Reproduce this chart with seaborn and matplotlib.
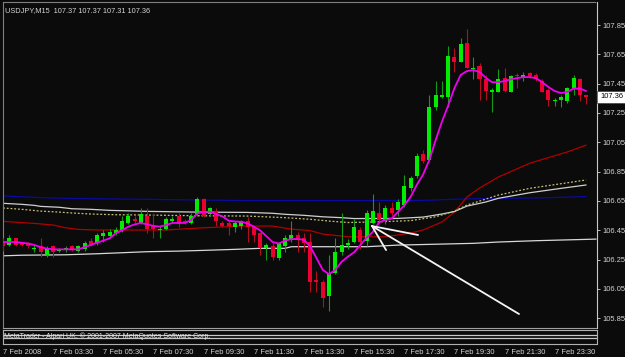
import numpy as np
import pandas as pd
import matplotlib
matplotlib.use("Agg")
import matplotlib.pyplot as plt
import matplotlib.transforms as mtransforms
import seaborn as sns

# ---------------- data ----------------
title_text = "USDJPY,M15  107.37 107.37 107.31 107.36"
footer_text = "MetaTrader - Alpari UK, \u00a9 2001-2007 MetaQuotes Software Corp."

opens = [106.38, 106.35, 106.40, 106.36, 106.36, 106.32, 106.34, 106.28, 106.34, 106.31,
         106.32, 106.34, 106.31, 106.32, 106.38, 106.36, 106.41, 106.41, 106.43, 106.45,
         106.50, 106.53, 106.50, 106.55, 106.48, 106.45, 106.46, 106.51, 106.55, 106.51,
         106.50, 106.56, 106.66, 106.56, 106.58, 106.50, 106.50, 106.47, 106.48, 106.51,
         106.47, 106.43, 106.33, 106.34, 106.26, 106.34, 106.39, 106.42, 106.40, 106.37,
         106.11, 106.10, 106.00, 106.16, 106.30, 106.35, 106.37, 106.45, 106.38, 106.50,
         106.57, 106.51, 106.60, 106.59, 106.62, 106.74, 106.82, 106.97, 106.93, 107.29,
         107.36, 107.36, 107.63, 107.60, 107.73, 107.55, 107.57, 107.48, 107.39, 107.39,
         107.49, 107.39, 107.51, 107.49, 107.52, 107.51, 107.47, 107.41, 107.33, 107.34,
         107.33, 107.42, 107.48, 107.37]
highs = [106.40, 106.42, 106.40, 106.37, 106.37, 106.35, 106.40, 106.34, 106.35, 106.33,
         106.34, 106.35, 106.35, 106.38, 106.40, 106.43, 106.45, 106.46, 106.47, 106.55,
         106.57, 106.55, 106.60, 106.60, 106.57, 106.48, 106.54, 106.55, 106.57, 106.53,
         106.57, 106.68, 106.67, 106.61, 106.60, 106.51, 106.51, 106.51, 106.52, 106.54,
         106.48, 106.44, 106.36, 106.36, 106.37, 106.42, 106.51, 106.44, 106.43, 106.43,
         106.17, 106.11, 106.28, 106.40, 106.57, 106.39, 106.53, 106.47, 106.59, 106.70,
         106.64, 106.62, 106.64, 106.66, 106.83, 106.82, 106.98, 107.00, 107.37, 107.47,
         107.47, 107.71, 107.69, 107.76, 107.82, 107.63, 107.59, 107.51, 107.42, 107.55,
         107.56, 107.51, 107.52, 107.53, 107.53, 107.52, 107.48, 107.42, 107.35, 107.37,
         107.43, 107.51, 107.49, 107.37]
lows = [106.31, 106.34, 106.34, 106.34, 106.33, 106.30, 106.27, 106.27, 106.27, 106.30,
        106.30, 106.31, 106.30, 106.31, 106.34, 106.35, 106.37, 106.40, 106.42, 106.44,
        106.49, 106.50, 106.49, 106.43, 106.40, 106.40, 106.45, 106.50, 106.47, 106.49,
        106.49, 106.55, 106.54, 106.55, 106.48, 106.47, 106.42, 106.44, 106.46, 106.37,
        106.37, 106.28, 106.25, 106.25, 106.25, 106.30, 106.37, 106.30, 106.30, 106.03,
        106.03, 105.93, 105.90, 106.15, 106.28, 106.32, 106.36, 106.32, 106.34, 106.49,
        106.50, 106.49, 106.55, 106.55, 106.61, 106.72, 106.81, 106.91, 106.92, 107.27,
        107.35, 107.29, 107.53, 107.60, 107.56, 107.48, 107.34, 107.34, 107.26, 107.39,
        107.39, 107.39, 107.42, 107.47, 107.49, 107.47, 107.39, 107.30, 107.30, 107.29,
        107.32, 107.37, 107.33, 107.31]
closes = [106.34, 106.40, 106.35, 106.35, 106.34, 106.33, 106.30, 106.33, 106.30, 106.32,
          106.33, 106.32, 106.34, 106.36, 106.35, 106.42, 106.43, 106.44, 106.45, 106.51,
          106.55, 106.51, 106.56, 106.46, 106.46, 106.46, 106.53, 106.53, 106.49, 106.50,
          106.55, 106.66, 106.55, 106.60, 106.51, 106.48, 106.48, 106.50, 106.51, 106.47,
          106.42, 106.33, 106.35, 106.27, 106.36, 106.40, 106.42, 106.39, 106.36, 106.10,
          106.10, 105.99, 106.15, 106.30, 106.35, 106.36, 106.47, 106.37, 106.57, 106.58,
          106.52, 106.60, 106.57, 106.64, 106.75, 106.81, 106.96, 106.92, 107.29, 107.37,
          107.37, 107.64, 107.60, 107.72, 107.56, 107.56, 107.48, 107.40, 107.41, 107.48,
          107.40, 107.50, 107.50, 107.51, 107.50, 107.48, 107.39, 107.34, 107.34, 107.36,
          107.42, 107.49, 107.37, 107.36]

# short moving average (magenta), one value per bar
ma_fast = [106.37, 106.37, 106.37, 106.365, 106.36, 106.35, 106.335, 106.325, 106.32, 106.32,
           106.32, 106.32, 106.32, 106.335, 106.35, 106.365, 106.38, 106.395, 106.43, 106.45,
           106.475, 106.49, 106.50, 106.49, 106.48, 106.475, 106.486, 106.50, 106.50, 106.50,
           106.52, 106.565, 106.575, 106.577, 106.56, 106.545, 106.515, 106.51, 106.508, 106.497,
           106.475, 106.45, 106.41, 106.37, 106.36, 106.38, 106.39, 106.39, 106.385, 106.34,
           106.26, 106.18, 106.15, 106.18, 106.235, 106.27, 106.30, 106.35, 106.40, 106.44,
           106.505, 106.52, 106.53, 106.575, 106.62, 106.677, 106.76, 106.83, 106.93, 107.065,
           107.19, 107.30, 107.42, 107.51, 107.536, 107.543, 107.53, 107.49, 107.46, 107.46,
           107.468, 107.48, 107.488, 107.495, 107.495, 107.488, 107.46, 107.427, 107.40, 107.386,
           107.393, 107.417, 107.417, 107.40]

# long moving averages (read at selected bars)
blue_bars = [0, 6, 11, 23, 38, 57, 67, 73, 79, 86, 93]
blue_vals = [106.684, 106.673, 106.667, 106.661, 106.653, 106.653, 106.654, 106.663, 106.668, 106.671, 106.680]

red_bars = [0, 5, 8, 10, 12, 15, 26, 31, 38, 43, 46, 49, 51, 55, 61, 65, 67, 70, 72, 74, 76, 79, 84, 90, 93]
red_vals = [106.511, 106.497, 106.486, 106.467, 106.456, 106.452, 106.452, 106.465, 106.479, 106.479,
            106.458, 106.448, 106.424, 106.406, 106.406, 106.431, 106.452, 106.506, 106.574, 106.677,
            106.738, 106.813, 106.907, 106.984, 107.031]

white_bars = [0, 3, 5, 6, 9, 11, 14, 17, 23, 31, 39, 43, 45, 48, 51, 54, 56, 63, 67, 70, 72, 74, 77, 79, 84, 89, 93]
white_vals = [106.634, 106.627, 106.620, 106.613, 106.607, 106.597, 106.593, 106.586, 106.579, 106.574,
              106.572, 106.566, 106.559, 106.552, 106.542, 106.536, 106.530, 106.531, 106.540, 106.561,
              106.578, 106.615, 106.643, 106.668, 106.706, 106.736, 106.759]

dotted_bars = [0, 3, 6, 9, 11, 14, 18, 23, 31, 39, 45, 49, 52, 55, 60, 65, 69, 72, 74, 79, 84, 90, 93]
dotted_vals = [106.602, 106.593, 106.581, 106.574, 106.568, 106.561, 106.556, 106.554, 106.549, 106.547,
               106.536, 106.525, 106.513, 106.503, 106.508, 106.516, 106.542, 106.581, 106.622, 106.690,
               106.736, 106.774, 106.793]

low_white_bars = [0, 3, 10, 15, 19, 23, 28, 32, 37, 41, 45, 46, 58, 63, 68, 75, 79, 85, 93, 94.6]
low_white_vals = [106.276, 106.280, 106.283, 106.290, 106.297, 106.304, 106.308, 106.313, 106.320, 106.327,
                  106.327, 106.338, 106.338, 106.349, 106.354, 106.361, 106.370, 106.379, 106.388, 106.390]

# hand-drawn trend lines (fan from one point)
fan_origin = (58.85, 106.479)
fan_ends_bar = [66.2, 61.1, 82.3]
fan_ends_val = [106.418, 106.315, 105.879]

x_tick_bars = [0, 8, 16, 24, 32, 40, 48, 56, 64, 72, 80, 88]
x_tick_labels = ["7 Feb 2008", "7 Feb 03:30", "7 Feb 05:30", "7 Feb 07:30", "7 Feb 09:30",
                 "7 Feb 11:30", "7 Feb 13:30", "7 Feb 15:30", "7 Feb 17:30", "7 Feb 19:30",
                 "7 Feb 21:30", "7 Feb 23:30"]
y_ticks = [107.85, 107.65, 107.45, 107.25, 107.05, 106.85, 106.65, 106.45, 106.25, 106.05, 105.85]
last_price = 107.36

# ---------------- style ----------------
BG = "#0b0b0b"
sns.set_style("dark", {"axes.facecolor": BG, "figure.facecolor": BG})
plt.rcParams["font.family"] = ["Liberation Sans", "DejaVu Sans"]
TXT = "#d4d4d4"

W, H = 625, 357
fig = plt.figure(figsize=(W / 100, H / 100), dpi=100, facecolor=BG)
ax = fig.add_axes([2.5 / W, (H - 327.5) / H, 594 / W, 325.5 / H])
strip = fig.add_axes([2.5 / W, (H - 343.5) / H, 594 / W, 14 / H])

df = pd.DataFrame({"bar": np.arange(len(opens)), "open": opens, "high": highs,
                   "low": lows, "close": closes, "ma": ma_fast})
up = df["close"] >= df["open"]

# long MAs
sns.lineplot(x=low_white_bars, y=low_white_vals, ax=ax, color="#d8d8d8", lw=0.9,
             estimator=None, sort=False, legend=False, zorder=2)
sns.lineplot(x=blue_bars, y=blue_vals, ax=ax, color="#0a0aa0", lw=0.9,
             estimator=None, sort=False, legend=False, zorder=2)
sns.lineplot(x=red_bars, y=red_vals, ax=ax, color="#b00000", lw=0.9,
             estimator=None, sort=False, legend=False, zorder=2)
sns.lineplot(x=white_bars, y=white_vals, ax=ax, color="#d0d0d0", lw=0.9,
             estimator=None, sort=False, legend=False, zorder=2)
sns.lineplot(x=dotted_bars, y=dotted_vals, ax=ax, color="#c8be78", lw=0.9,
             linestyle=(0, (1.5, 1.5)), estimator=None, sort=False, legend=False, zorder=2)

# candles
body_w = 0.64
min_h = 0.008
ax.vlines(df["bar"][up], df["low"][up], df["high"][up], colors="#159a15", lw=0.8, zorder=3)
ax.vlines(df["bar"][~up], df["low"][~up], df["high"][~up], colors="#b0101e", lw=0.8, zorder=3)
raw_h = np.abs(df["close"] - df["open"])
bottoms = np.minimum(df["open"], df["close"])
heights = np.maximum(raw_h, min_h)
adj_bottom = bottoms - (heights - raw_h) / 2
ax.bar(df["bar"][up], heights[up], bottom=adj_bottom[up],
       width=body_w, color="#00ec00", edgecolor="none", zorder=4)
ax.bar(df["bar"][~up], heights[~up], bottom=adj_bottom[~up],
       width=body_w, color="#ec0030", edgecolor="none", zorder=4)

# fast MA (magenta)
sns.lineplot(data=df, x="bar", y="ma", ax=ax, color="#f000f0", lw=1.3,
             estimator=None, legend=False, zorder=5)

# fan lines
for xb, yv in zip(fan_ends_bar, fan_ends_val):
    ax.plot([fan_origin[0], xb], [fan_origin[1], yv], color="#f4f4f4", lw=1.3, zorder=6)

# axes limits / frame
ax.set_xlim(-0.08, 94.66)
ax.set_ylim(105.787, 108.007)
ax.set_xlabel("")
ax.set_ylabel("")
ax.set_xticks([])
ax.yaxis.tick_right()
ax.set_yticks(y_ticks)
ax.set_yticklabels([f"{v:.2f}" for v in y_ticks])
ax.tick_params(axis="y", colors=TXT, labelsize=5.4, length=2.5, width=0.6, pad=1.5, direction="out")
ax.grid(False)
for side in ["left", "top"]:
    ax.spines[side].set_visible(True)
    ax.spines[side].set_color("#808080")
    ax.spines[side].set_linestyle((0, (1, 1)))
    ax.spines[side].set_linewidth(0.8)
ax.spines["right"].set_visible(True)
ax.spines["right"].set_color("#c8c8c8")
ax.spines["right"].set_linewidth(0.8)
ax.spines["bottom"].set_visible(True)
ax.spines["bottom"].set_color("#a0a0a0")
ax.spines["bottom"].set_linewidth(0.8)

ax.text(0.004, 0.985, title_text, transform=ax.transAxes, ha="left", va="top",
        fontsize=5.3, color=TXT)

trans = mtransforms.blended_transform_factory(ax.transAxes, ax.transData)
ax.text(1.006, last_price, f"{last_price:.2f}", transform=trans, ha="left", va="center",
        fontsize=5.4, color="black",
        bbox=dict(boxstyle="square,pad=0.35", facecolor="white", edgecolor="#404040", lw=0.5))

# bottom strip with x axis
strip.set_facecolor(BG)
strip.set_xlim(-0.08, 94.66)
strip.set_ylim(0, 1)
strip.set_yticks([])
strip.set_xticks(x_tick_bars)
strip.set_xticklabels(x_tick_labels, ha="left")
strip.tick_params(axis="x", colors=TXT, labelsize=5.4, length=2.5, width=0.6, pad=1.2, direction="out")
strip.grid(False)
for side in ["left", "top", "right", "bottom"]:
    strip.spines[side].set_visible(True)
    strip.spines[side].set_color("#b0b0b0")
    strip.spines[side].set_linewidth(0.8)
strip.axhline(0.62, color="#c8c8c8", lw=0.9)
strip.axhline(0.40, color="#c8c8c8", lw=0.9)
strip.text(0.003, 0.5, footer_text, transform=strip.transAxes, ha="left", va="center",
           fontsize=5.0, color="#e8e8e8")

fig.savefig("out.png", dpi=100, facecolor=BG)
